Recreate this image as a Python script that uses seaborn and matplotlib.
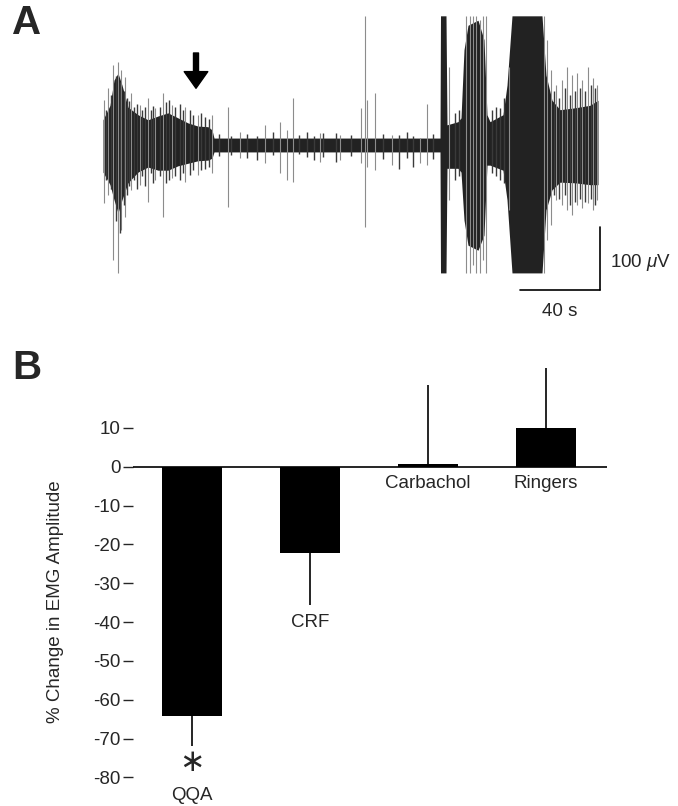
import numpy as np
import pandas as pd
import matplotlib
matplotlib.use('Agg')
import matplotlib.pyplot as plt
import seaborn as sns

# ---- panel A: EMG trace (time in s, amplitude in uV) ----
env_t = [0, 3.5, 5.5, 7.5, 9.5, 12.5, 17.5, 22.5, 27.5, 32.5, 37.5, 42.5, 47.5, 52.5,
         54.5, 55.5, 168.5, 168.75, 171.5, 172, 177.5, 179, 180.5, 182.5, 187.5, 190.5,
         192, 193.5, 200, 202, 204.5, 219.5, 221.5, 224.5, 228.5, 236, 243.5, 247.5]
env_hi = [40, 63, 103, 114, 95, 60, 48, 40, 46, 51, 43, 35, 30, 29,
          24, 11, 11, 205, 205, 32, 37, 43, 151, 190, 198, 167,
          48, 37, 48, 95, 205, 205, 111, 71, 56, 59, 63, 71]
env_lo = [-43, -63, -87, -108, -87, -60, -43, -35, -40, -40, -33, -29, -25, -24,
          -21, -11, -11, -203, -203, -37, -37, -43, -119, -159, -167, -143,
          -32, -32, -40, -87, -203, -203, -103, -71, -59, -60, -63, -63]

# large isolated spikes (grey)
spike_t = [0.5, 2.5, 5, 7.5, 9, 11, 14, 18.5, 22.5, 26, 30, 34.5, 41, 47.5, 54.5,
           62.5, 68.5, 81, 88.5, 92, 95, 108.5, 118.5, 129, 131, 132, 136, 144.5,
           158.5, 162, 173, 181.5, 183.5, 185, 186.5, 188.5, 190, 191.5, 203,
           220.5, 222, 224, 226.5, 229.5, 232, 234.5, 237, 239.5, 242.5, 245, 247]
spike_hi = [71, 90, 127, 132, 119, 108, 83, 63, 75, 59, 83, 63, 60, 48, 48,
            60, 21, 32, 37, 24, 75, 19, 16, 59, 205, 71, 83, 16,
            11, 65, 124, 205, 205, 205, 205, 198, 205, 205, 124,
            205, 167, 119, 95, 103, 124, 111, 114, 103, 124, 106, 95]
spike_lo = [-92, -79, -183, -203, -135, -114, -71, -63, -90, -56, -114, -52, -59, -48, -44,
            -98, -21, -29, -44, -56, -59, -27, -24, -29, -130, -35, -40, -32,
            -29, -32, -87, -203, -203, -190, -203, -203, -183, -203, -103,
            -203, -151, -127, -87, -95, -103, -111, -95, -100, -92, -103, -87]

# smaller excursions along the edge of the trace
fuzz_t = [1.5, 4, 6.5, 8.5, 10.5, 12, 13, 15.5, 17, 19.5, 21, 24, 25, 28.5, 31.5, 33,
          36, 38.5, 40, 43.5, 45, 49, 51, 53,
          58, 64, 72, 77, 85, 98, 102, 105.5, 110, 116.5, 124, 140, 148, 152, 155, 165,
          176, 178, 194.5, 196.5, 198.5, 200.5,
          225.5, 228, 231, 233.5, 236, 238.5, 241, 244, 246]
fuzz_hi = [55, 80, 110, 100, 85, 75, 70, 60, 65, 55, 60, 55, 62, 60, 68, 72,
           60, 65, 55, 55, 48, 50, 45, 42,
           18, 15, 18, 14, 20, 16, 20, 14, 19, 19, 16, 18, 16, 20, 15, 18,
           50, 55, 55, 60, 58, 75,
           85, 75, 90, 80, 85, 90, 85, 95, 90]
fuzz_lo = [-55, -70, -120, -140, -95, -80, -65, -55, -70, -50, -65, -45, -60, -50, -60, -55,
           -50, -55, -45, -48, -40, -40, -38, -35,
           -18, -16, -20, -24, -16, -15, -19, -24, -19, -27, -18, -22, -38, -20, -35, -22,
           -55, -50, -45, -50, -55, -60,
           -80, -85, -80, -95, -90, -85, -90, -85, -95]

arrow_t = 46.5
bar_time = 40      # s
bar_volt = 100     # uV

# ---- panel B: % change in EMG amplitude ----
drugs = ['QQA', 'CRF', 'Carbachol', 'Ringers']
pct_change = [-64.3, -22.3, 0.7, 10.0]
sem = [7.5, 13.3, 20.5, 15.5]
signif = [True, False, False, False]

sns.set_style('white')
plt.rcParams['font.family'] = ['Liberation Sans', 'DejaVu Sans']
plt.rcParams['mathtext.fontset'] = 'custom'
plt.rcParams['mathtext.it'] = 'Liberation Sans:italic'
plt.rcParams['mathtext.rm'] = 'Liberation Sans'

fig = plt.figure(figsize=(6.78, 8.06), dpi=100)

# panel A
ax_a = fig.add_axes([0, 1 - 330 / 806, 1, 330 / 806])
ax_a.vlines(spike_t, spike_lo, spike_hi, color='#8c8c8c', lw=0.8)
ax_a.vlines(fuzz_t, fuzz_lo, fuzz_hi, color='#3a3a3a', lw=1.0)
ax_a.fill_between(env_t, env_lo, env_hi, color='#222222', lw=0)
ax_a.annotate('', xy=(arrow_t, 90), xytext=(arrow_t, 146),
              arrowprops=dict(arrowstyle='simple,head_width=0.85,head_length=0.6,tail_width=0.18',
                              color='black', shrinkA=0, shrinkB=0, mutation_scale=20))
x_end = 248.5
y_low = -230
ax_a.plot([x_end, x_end], [y_low + bar_volt, y_low], color='black', lw=1.2)
ax_a.plot([x_end - bar_time, x_end], [y_low, y_low], color='black', lw=1.2)
ax_a.text(x_end + 5, y_low + bar_volt * 0.44, r'100 $\mu$V', fontsize=13.5, ha='left', va='center')
ax_a.text(x_end - bar_time / 2, y_low - 35, f'{bar_time} s', fontsize=13.5, ha='center', va='center')
ax_a.set_xlim(-51.5, 287.5)
ax_a.set_ylim(-293.6, 230.1)
ax_a.axis('off')

# panel B
df = pd.DataFrame({'drug': drugs, 'change': pct_change, 'sem': sem})
ax_b = fig.add_axes([133 / 678, 1 - 789 / 806, 474 / 678, 427 / 806])
sns.barplot(data=df, x='drug', y='change', color='black', width=0.51,
            errorbar=None, saturation=1, linewidth=0, ax=ax_b)
lower = [s if v < 0 else 0 for v, s in zip(pct_change, sem)]
upper = [s if v >= 0 else 0 for v, s in zip(pct_change, sem)]
ax_b.errorbar(range(len(drugs)), pct_change, yerr=[lower, upper], fmt='none',
              ecolor='black', elinewidth=1.2, capsize=0)
ax_b.axhline(0, color='black', lw=1.2)

for i, (name, v, s, star) in enumerate(zip(drugs, pct_change, sem, signif)):
    if v < 0:
        y = v - s - 4.5
        if star:
            ax_b.text(i, y, '\u2217', fontsize=22, ha='center', va='center',
                      family=['DejaVu Sans'])
            y -= 8.5
        ax_b.text(i, y, name, fontsize=13.5, ha='center', va='center')
    else:
        ax_b.text(i, -4.2, name, fontsize=13.5, ha='center', va='center')

yt = list(range(-80, 11, 10))
ax_b.set_yticks(yt)
ax_b.set_yticklabels([str(t) for t in yt], fontsize=13.5)
ax_b.tick_params(axis='y', direction='out', length=7, width=1, pad=2, left=True)
ax_b.set_xticks([])
ax_b.set_xlabel('')
ax_b.set_ylabel('')
ax_b.set_xlim(-0.5, 3.52)
ax_b.set_ylim(-83, 27)
sns.despine(ax=ax_b, left=True, bottom=True)

fig.text(55 / 678, 1 - 602 / 806, '% Change in EMG Amplitude', rotation=90,
         ha='center', va='center', fontsize=13.5)
fig.text(12 / 678, 1 - 23 / 806, 'A', fontsize=29, weight='bold', ha='left', va='center')
fig.text(12 / 678, 1 - 368 / 806, 'B', fontsize=29, weight='bold', ha='left', va='center')

fig.savefig('out.png', dpi=100)
